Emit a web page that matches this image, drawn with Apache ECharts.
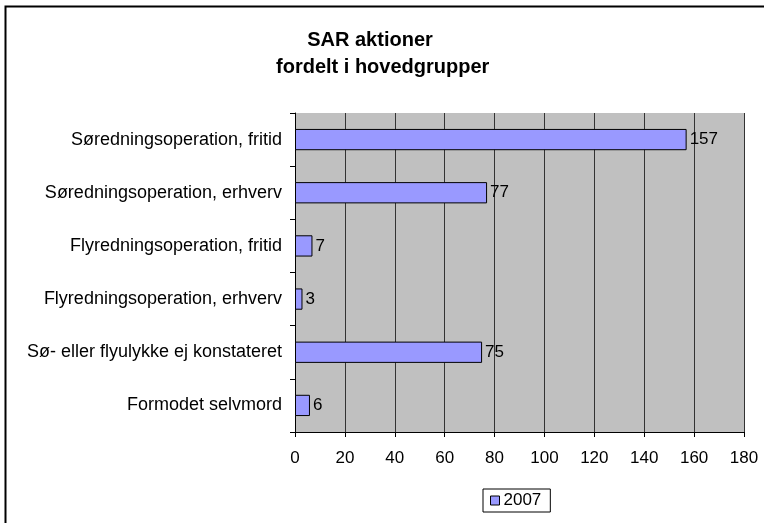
<!DOCTYPE html>
<html>
<head>
<meta charset="utf-8">
<script src="https://cdn.jsdelivr.net/npm/echarts@6/dist/echarts.min.js"></script>
<style>
html,body{margin:0;padding:0;background:#fff;}
#chart{width:764px;height:523px;}
</style>
</head>
<body>
<div id="chart"></div>
<script>
// kategorier, oppefra og ned
var categories = ['Søredningsoperation, fritid', 'Søredningsoperation, erhverv', 'Flyredningsoperation, fritid',
    'Flyredningsoperation, erhverv', 'Sø- eller flyulykke ej konstateret', 'Formodet selvmord'];
var values2007 = [157, 77, 7, 3, 75, 6];
var seriesName = '2007';
var titleLines = ['SAR aktioner', 'fordelt i hovedgrupper'];

var font = '"Liberation Sans", Arial, sans-serif';
var titleStyle = {fontFamily: font, fontSize: 20, fontWeight: 'bold', color: '#000'};
var myChart = echarts.init(document.getElementById('chart'));
var option = {
    animation: false,
    textStyle: {fontFamily: font, color: '#000'},
    title: [{
        text: titleLines[0],
        left: 370,
        textAlign: 'center',
        top: 30,
        padding: 0,
        textStyle: titleStyle
    }, {
        text: titleLines[1],
        left: 276,
        top: 57,
        padding: 0,
        textStyle: titleStyle
    }],
    graphic: [{
        type: 'rect',
        shape: {x: 5.5, y: 6.5, width: 800, height: 600},
        style: {fill: 'none', stroke: '#000', lineWidth: 2},
        silent: true
    }],
    legend: {
        bottom: 11,
        left: 483,
        data: [{name: seriesName, icon: 'rect'}],
        itemWidth: 9,
        itemHeight: 9,
        itemGap: 4,
        padding: [3, 9, 3, 7],
        borderColor: '#000',
        borderWidth: 1,
        textStyle: {fontFamily: font, fontSize: 17, color: '#000', padding: [0, 0, 0, -1]},
        itemStyle: {borderColor: '#000', borderWidth: 1}
    },
    grid: {
        left: 295,
        right: 20,
        top: 113,
        bottom: 91,
        show: true,
        backgroundColor: '#c0c0c0',
        borderWidth: 0
    },
    xAxis: {
        type: 'value',
        min: 0,
        max: 180,
        interval: 20,
        axisLine: {show: true, lineStyle: {color: '#000', width: 1}},
        axisTick: {show: true, length: 5, lineStyle: {color: '#000'}},
        axisLabel: {fontFamily: font, fontSize: 17, color: '#000', margin: 18},
        splitLine: {show: true, lineStyle: {color: '#333', width: 1}}
    },
    yAxis: {
        type: 'category',
        inverse: true,
        data: categories,
        axisLine: {show: true, lineStyle: {color: '#000', width: 1}},
        axisTick: {show: true, length: 5, lineStyle: {color: '#000'}},
        axisLabel: {fontFamily: font, fontSize: 18, color: '#000', margin: 13},
        splitLine: {show: false}
    },
    series: [{
        name: seriesName,
        type: 'bar',
        data: values2007,
        barCategoryGap: '60%',
        itemStyle: {color: '#9999ff', borderColor: '#000', borderWidth: 1},
        label: {
            show: true,
            position: 'right',
            distance: 3,
            fontFamily: font,
            fontSize: 17,
            color: '#000'
        }
    }]
};
myChart.setOption(option);
</script>
</body>
</html>
